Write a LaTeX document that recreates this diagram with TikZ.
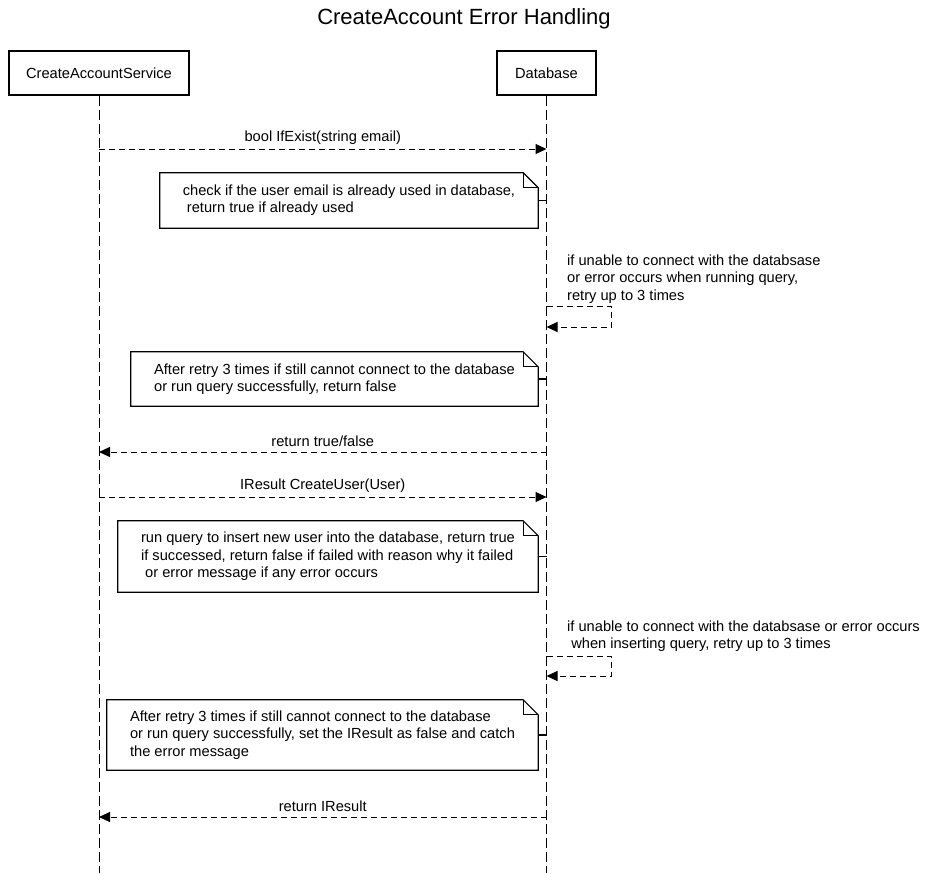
\documentclass[tikz,border=0pt]{standalone}
\usepackage{fontspec}
\setmainfont{Liberation Sans}
\usetikzlibrary{arrows.meta}
\newcommand\notefold[1]{%
  \draw[noteborder] (#1.north west) -- ([xshift=-15pt]#1.north east) -- ([yshift=-15pt]#1.north east) -- (#1.south east) -- (#1.south west) -- cycle;
  \draw[noteborder] ([xshift=-15pt]#1.north east) -- ([xshift=-15pt,yshift=-15pt]#1.north east) -- ([yshift=-15pt]#1.north east);
  \draw[noteborder] (#1.east) -- (#1.east -| lB);}
\begin{document}
\begin{tikzpicture}[x=1pt,y=1pt,
  txt/.style={font=\fontsize{14.65}{17.3}\selectfont},
  actor/.style={txt, draw, line width=2.7pt, minimum height=44pt, inner sep=0pt},
  lifeline/.style={line width=1pt, dash pattern=on 10pt off 4pt},
  msg/.style={line width=1pt, dash pattern=on 6pt off 4pt, -{Triangle[length=11pt,width=10pt]}},
  msglabel/.style={txt, midway, yshift=11pt, inner sep=0pt},
  note/.style={txt, align=left, inner sep=0pt},
  noteborder/.style={line width=1.2pt, line join=miter},
  looplabel/.style={txt, align=left, anchor=west, inner sep=0pt}]
\useasboundingbox (0,0) rectangle (928,-873);
\node[font=\fontsize{22}{26}\selectfont, inner sep=0pt] (title) at (464,-18.5) {CreateAccount Error Handling};
\node[actor, minimum width=180pt] (A) at (99,-73) {CreateAccountService};
\node[actor, minimum width=99pt] (B) at (546.5,-73) {Database};
\coordinate (lA) at (99,-873);
\coordinate (lB) at (546.5,-873);
\draw[lifeline] (A.south) -- (lA);
\draw[lifeline] (B.south) -- (lB);
% message 1
\coordinate (m1a) at (99,-149);
\coordinate (m1b) at (546.5,-149);
\draw[msg] (m1a) -- node[msglabel] {bool IfExist(string email)} (m1b);
% note 1
\node[note, minimum width=378pt, minimum height=55pt] (n1) at (349,-200.5) {check if the user email is already used in database,\\\ return true if already used};
\notefold{n1}
% self loop 1
\coordinate (s1a) at (546.5,-306);
\coordinate (s1b) at (546.5,-327);
\draw[msg] (s1a) -- ++(64.5,0) |- (s1b);
\node[looplabel] (s1t) at (567,-279) {if unable to connect with the databsase\\or error occurs when running query,\\retry up to 3 times};
% note 2
\node[note, minimum width=407pt, minimum height=54pt] (n2) at (334.5,-379) {After retry 3 times if still cannot connect to the database\\or run query successfully, return false};
\notefold{n2}
% return 1
\coordinate (r1b) at (546.5,-452);
\coordinate (r1a) at (99,-452);
\draw[msg] (r1b) -- node[msglabel] {return true/false} (r1a);
% message 2
\coordinate (m2a) at (99,-497);
\coordinate (m2b) at (546.5,-497);
\draw[msg] (m2a) -- node[msglabel] {IResult CreateUser(User)} (m2b);
% note 3
\node[note, minimum width=420pt, minimum height=71pt] (n3) at (328,-556.5) {run query to insert new user into the database, return true\\if successed, return false if failed with reason why it failed\\\ or error message if any error occurs};
\notefold{n3}
% self loop 2
\coordinate (s2a) at (546.5,-656);
\coordinate (s2b) at (546.5,-676);
\draw[msg] (s2a) -- ++(64.5,0) |- (s2b);
\node[looplabel] (s2t) at (567,-636) {if unable to connect with the databsase or error occurs\\\ when inserting query, retry up to 3 times};
% note 4
\node[note, minimum width=431pt, minimum height=70pt] (n4) at (322.5,-735) {After retry 3 times if still cannot connect to the database\\or run query successfully, set the IResult as false and catch\\the error message};
\notefold{n4}
% return 2
\coordinate (r2b) at (546.5,-817);
\coordinate (r2a) at (99,-817);
\draw[msg] (r2b) -- node[msglabel] {return IResult} (r2a);
\end{tikzpicture}
\end{document}
